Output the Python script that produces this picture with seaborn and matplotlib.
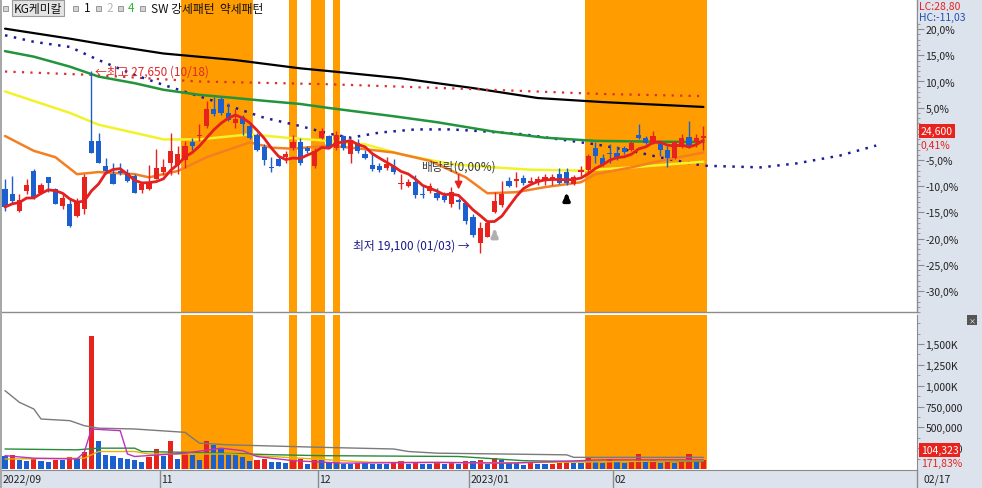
import numpy as np
import pandas as pd
import matplotlib
matplotlib.use("Agg")
import matplotlib.pyplot as plt
import matplotlib.transforms as mtransforms
from matplotlib.patches import Rectangle
import seaborn as sns

# === Setup ===
sns.set_style("white")
plt.rcParams["font.family"] = ["Noto Sans CJK KR", "DejaVu Sans"]
plt.rcParams["axes.unicode_minus"] = False

# === Data: daily candles, KG케미칼 2022-09-28 ~ 2023-02-17 ===
opens = [22100, 21850, 21050, 22000, 22950, 21900, 22650, 22100, 21300, 21400,
         20850, 21150, 24350, 24350, 23200, 22800, 22950, 22850, 22700, 22050,
         22100, 22550, 22900, 23350, 23250, 23450, 24300, 24600, 25050, 25850,
         26350, 25700, 25200, 25500, 25050, 24650, 24100, 23150, 23500, 23600,
         24050, 24300, 24050, 23200, 24500, 24600, 24050, 24600, 23750, 24250,
         23750, 23250, 23200, 23100, 23200, 22350, 22250, 22450, 21850, 22000,
         21900, 21750, 21400, 21600, 21450, 20800, 19550, 19850, 21000, 21350,
         22500, 22500, 22600, 22400, 22450, 22500, 22550, 22800, 22900, 22350,
         22900, 23000, 24050, 23550, 23800, 23800, 24050, 23950, 24650, 24500,
         24300, 24300, 23950, 23550, 24100, 24550, 24300, 24500]
highs = [22550, 22700, 21850, 22550, 23050, 22400, 22650, 22150, 21900, 21700,
         21700, 22800, 27650, 24750, 23550, 23350, 23350, 23050, 22800, 22400,
         23250, 24000, 23500, 24750, 24150, 24350, 24500, 25150, 26250, 26450,
         26450, 26150, 25850, 25600, 25150, 24750, 24200, 23600, 23600, 23900,
         24650, 24500, 24150, 24050, 25000, 24650, 24850, 24650, 24350, 24450,
         23950, 23800, 23350, 23600, 23500, 22800, 22550, 22750, 22250, 22400,
         22150, 21950, 22200, 21700, 21500, 20900, 20550, 20550, 21950, 22500,
         22650, 22900, 22750, 22650, 22700, 22800, 22800, 23100, 23100, 22750,
         23200, 23750, 24300, 23750, 24200, 24150, 24150, 24350, 25150, 24600,
         24850, 24350, 24150, 24350, 24700, 25300, 24700, 25050]
lows = [21050, 21450, 21000, 21850, 21650, 21850, 21950, 21400, 21150, 20300,
        20800, 20900, 23800, 23350, 22800, 22350, 22750, 22450, 21900, 21900,
        22050, 22550, 22750, 22750, 22800, 23100, 23950, 24350, 25000, 25550,
        25600, 25300, 25000, 24650, 24450, 23900, 23250, 22900, 23200, 23350,
        23950, 23250, 23800, 23100, 24450, 24050, 23950, 23950, 23350, 23800,
        23500, 22950, 22900, 23000, 22800, 22100, 22200, 21700, 21700, 21900,
        21600, 21500, 21250, 21150, 20450, 19850, 19100, 19850, 20950, 21250,
        22200, 22200, 22300, 22350, 22300, 22300, 22300, 22350, 22300, 22300,
        22700, 22900, 23350, 23200, 23350, 23450, 23750, 23900, 24450, 24200,
        24200, 23650, 23150, 23500, 24050, 24050, 24100, 23950]
closes = [21250, 21550, 21600, 22300, 21700, 22300, 22400, 21400, 21700, 20350,
          21550, 22650, 23800, 23350, 22950, 22350, 22850, 22500, 21900, 22350,
          22400, 23100, 23150, 23900, 23750, 24150, 24150, 24650, 25850, 25650,
          25700, 25350, 25400, 25150, 24500, 23950, 23450, 23100, 23200, 23750,
          24300, 23350, 23900, 23900, 24850, 24100, 24650, 24050, 24300, 23900,
          23550, 23050, 23000, 23300, 22900, 22400, 22450, 21800, 21800, 22250,
          21700, 21600, 21950, 21500, 20600, 19950, 20250, 20500, 21550, 21850,
          22250, 22550, 22400, 22500, 22550, 22650, 22650, 22400, 22400, 22650,
          23000, 23650, 23650, 23250, 23750, 23600, 23850, 24250, 24500, 24250,
          24600, 23950, 23550, 24300, 24500, 24100, 24500, 24600]
volumes_k = [152, 168, 112, 96, 120, 96, 88, 104, 104, 144,
             128, 208, 1597, 336, 168, 152, 128, 120, 104, 80,
             144, 240, 152, 336, 120, 192, 168, 104, 336, 288,
             240, 176, 176, 144, 96, 112, 120, 88, 88, 72,
             104, 120, 64, 104, 104, 88, 72, 64, 64, 72,
             72, 56, 56, 56, 72, 96, 56, 88, 56, 56,
             80, 56, 72, 56, 96, 96, 104, 64, 136, 104,
             80, 80, 48, 72, 56, 56, 64, 72, 96, 72,
             72, 136, 80, 72, 120, 80, 72, 80, 184, 80,
             104, 72, 88, 72, 80, 176, 80, 104]

# month labels on the date bar (index of first trading day)
month_labels = ["2022/09", "11", "12", "2023/01", "02"]
month_starts = [0, 22, 44, 65, 85]

# SW strong-pattern shading (first, last candle index)
pattern_spans = [(25, 34), (40, 40), (43, 44), (46, 46), (81, 97)]

# longer moving averages (candle index, price)
ma20_idx = [0, 4, 7, 10, 13, 18, 20, 24, 28, 34, 37, 40, 45, 50, 54, 59, 64, 67, 71, 75, 80, 82, 87, 91, 97]
ma20_val = [24600, 23900, 23600, 22800, 22900, 22800, 22650, 22950, 23600, 24300, 24050, 24000, 24150,
            23980, 23820, 23430, 22650, 21900, 21950, 22190, 22420, 22800, 23120, 23430, 23820]
ma60_idx = [0, 4, 9, 13, 18, 22, 27, 34, 39, 45, 50, 55, 62, 68, 73, 80, 87, 97]
ma60_val = [26700, 26250, 25690, 25130, 24750, 24440, 24440, 24680, 24520, 24370, 24210, 23740,
            23270, 23120, 23010, 22970, 23120, 23390]
ma120_idx = [0, 4, 9, 13, 18, 22, 27, 32, 36, 41, 45, 54, 60, 68, 75, 82, 91, 97]
ma120_val = [28600, 28340, 27870, 27400, 27090, 26780, 26540, 26390, 26260, 26110, 25920, 25530,
             25250, 24800, 24520, 24370, 24330, 24320]
ma240_idx = [0, 9, 13, 22, 32, 41, 45, 55, 65, 74, 83, 97]
ma240_val = [29660, 29190, 28960, 28490, 28180, 27790, 27660, 27320, 26860, 26390, 26200, 25970]
reddot_idx = [0, 12, 27, 45, 65, 83, 97]
reddot_val = [27640, 27480, 27170, 27040, 26810, 26580, 26480]
lead_idx = [0, 4, 9, 13, 18, 22, 27, 32, 36, 41, 45, 48, 52, 57, 62, 66, 72, 77, 82, 87, 91, 97,
            105, 110, 116, 121]
lead_val = [29350, 29040, 28800, 28180, 27480, 27010, 26470, 25920, 25460, 25070, 24710, 24520,
            24760, 24910, 24910, 24830, 24680, 24440, 24210, 23900, 23590, 23200, 23120, 23310,
            23680, 24150]

# volume averages (candle index, thousand shares)
vgray_idx = [0, 2, 4, 5, 9, 11, 13, 18, 25, 27, 31, 44, 54, 56, 60, 78, 79, 97]
vgray_val = [940, 800, 720, 600, 580, 520, 490, 480, 440, 310, 290, 260, 240, 210, 190, 170, 140, 140]
vmag_idx = [0, 4, 10, 11, 12, 16, 17, 18, 25, 30, 33, 35, 40, 47, 60, 70, 83, 97]
vmag_val = [160, 130, 120, 200, 480, 460, 180, 150, 190, 250, 220, 150, 100, 70, 80, 70, 110, 110]
vgreen_idx = [0, 10, 13, 18, 19, 25, 38, 44, 63, 72, 79, 97]
vgreen_val = [240, 230, 250, 250, 210, 200, 170, 160, 150, 100, 90, 90]
vyel_idx = [0, 11, 13, 18, 20, 31, 35, 47, 51, 70, 97]
vyel_val = [120, 130, 210, 210, 180, 180, 160, 100, 80, 75, 100]

pct_ticks = [20, 15, 10, 5, -5, -10, -15, -20, -25, -30]
pct_base = 24700
vol_ticks = [250000, 500000, 750000, 1000000, 1250000, 1500000]
vol_labels = ["250,000", "500,000", "750,000", "1,000K", "1,250K", "1,500K"]

# === Colours ===
RED = "#e8231e"
BLUE = "#1c5fce"
ORANGE = "#ff9c00"
BAND = "#dde3ec"
GRID = "#8c8c8c"

# === Figure layout (pixel helpers) ===
W, H = 982, 489
fig = plt.figure(figsize=(W / 100, H / 100), dpi=100)
fig.patch.set_facecolor("white")


def fx(px):
    return px / W


def fy(py):
    return 1 - py / H


fig.add_artist(Rectangle((fx(917), 0), 1 - fx(917), 1, transform=fig.transFigure,
                         facecolor=BAND, edgecolor="none", zorder=-1))
fig.add_artist(Rectangle((0, 0), 1, fy(471), transform=fig.transFigure,
                         facecolor=BAND, edgecolor="none", zorder=-1))
fig.add_artist(Rectangle((0, 0), fx(2), 1, transform=fig.transFigure,
                         facecolor="#a8a8a8", edgecolor="none", zorder=5))

ax = fig.add_axes([fx(2), fy(313), fx(917) - fx(2), fy(0) - fy(313)])
axv = fig.add_axes([fx(2), fy(470), fx(917) - fx(2), fy(316) - fy(470)], sharex=ax)
axd = fig.add_axes([fx(2), 0, fx(917) - fx(2), fy(471)], sharex=ax)

df = pd.DataFrame({"open": opens, "high": highs, "low": lows, "close": closes,
                   "volume": np.array(volumes_k) * 1000})
df["idx"] = np.arange(len(df))
df["dir"] = np.where(df["close"] >= df["open"], "up", "down")
df["vdir"] = np.where(df["volume"] > df["volume"].shift(1), "up", "down")
ccol = np.where(df["dir"] == "up", RED, BLUE)

# === Pattern shading ===
for s, e in pattern_spans:
    ax.axvspan(s - 0.5, e + 0.5, color=ORANGE, lw=0, zorder=0)
    axv.axvspan(s - 0.5, e + 0.5, color=ORANGE, lw=0, zorder=0)

# === Moving averages ===
line_kw = dict(ax=ax, estimator=None, legend=False)
sns.lineplot(x=ma240_idx, y=ma240_val, color="black", linewidth=1.6, zorder=2, **line_kw)
sns.lineplot(x=reddot_idx, y=reddot_val, color="#d83030", linewidth=1.6,
             linestyle=(0, (1, 2.8)), zorder=2, **line_kw)
sns.lineplot(x=lead_idx, y=lead_val, color="#1c1c9c", linewidth=1.8,
             linestyle=(0, (1, 2.6)), zorder=2, **line_kw)
sns.lineplot(x=ma120_idx, y=ma120_val, color="#22943c", linewidth=1.8, zorder=2, **line_kw)
sns.lineplot(x=ma60_idx, y=ma60_val, color="#f2f22a", linewidth=1.8, zorder=2, **line_kw)
sns.lineplot(x=ma20_idx, y=ma20_val, color="#f47f22", linewidth=1.8, zorder=2, **line_kw)
ma5 = df["close"].rolling(5, min_periods=1).mean()
sns.lineplot(x=df["idx"], y=ma5, color="#e42020", linewidth=2.0, zorder=5, **line_kw)

# === Candles ===
ax.vlines(df["idx"], df["low"], df["high"], colors=ccol, linewidth=1, zorder=3)
body_lo = np.minimum(df["open"], df["close"])
body_h = np.maximum((df["close"] - df["open"]).abs(), 45)
ax.bar(df["idx"], body_h, bottom=body_lo, width=0.72, color=ccol, linewidth=0, zorder=4)

# === Annotations ===
red_txt = "#e02828"
hi_i = int(np.argmax(highs))
ax.text(hi_i + 0.5, highs[hi_i], "←최고 27,650 (10/18)", color=red_txt, fontsize=8.5,
        ha="left", va="center", zorder=6)
lo_i = int(np.argmin(lows))
ax.text(lo_i - 1.5, lows[lo_i] + 350, "최저 19,100 (01/03) →", color="#1a1a8c", fontsize=8.5,
        ha="right", va="center", zorder=6)
ax.text(63, 23190, "배당락(0,00%)", color="#3c3c3c", fontsize=8.5, ha="center", va="center", zorder=6)
ax.annotate("", xy=(63, 21950), xytext=(63, 22900),
            arrowprops=dict(arrowstyle="-|>", color=RED, lw=1.2, mutation_scale=11), zorder=6)
ax.annotate("", xy=(78, 22030), xytext=(78, 21560),
            arrowprops=dict(arrowstyle="-|>", color="black", lw=2.6, mutation_scale=9), zorder=6)
ax.annotate("", xy=(68, 20320), xytext=(68, 19940),
            arrowprops=dict(arrowstyle="-|>", color="#b0b0b0", lw=2.6, mutation_scale=9), zorder=6)

# === Price axis ===
ax.set_xlim(-0.42, 126.67)
ax.set_ylim(16442, 31059)
ax.yaxis.tick_right()
ax.set_yticks([pct_base * (1 + p / 100) for p in pct_ticks])
ax.set_yticklabels([f"{p:.1f}%".replace(".", ",") for p in pct_ticks])
ax.set_yticks([pct_base * (1 + p / 100) for p in range(-34, 24)], minor=True)
ax.tick_params(axis="y", which="major", direction="out", length=5, width=0.8, color=GRID,
               labelsize=7.5, labelcolor="#222222", pad=1)
ax.tick_params(axis="y", which="minor", direction="out", length=2.5, width=0.6, color=GRID)
ax.tick_params(axis="x", which="both", bottom=False, labelbottom=False)
ax.set(xlabel="", ylabel="")
for side in ["left", "top"]:
    ax.spines[side].set_visible(False)
for side in ["right", "bottom"]:
    ax.spines[side].set_color(GRID)
    ax.spines[side].set_linewidth(1)

tr = mtransforms.blended_transform_factory(ax.transAxes, ax.transData)
ax.text(1.004, closes[-1] + 230, f"{closes[-1]:,}", transform=tr, color="white", fontsize=7.5,
        ha="left", va="center", bbox=dict(boxstyle="square,pad=0.18", fc=RED, ec="none"), zorder=7)
chg = (closes[-1] - closes[-2]) / closes[-2] * 100
ax.text(1.004, closes[-1] - 430, f"{chg:.2f}%".replace(".", ","), transform=tr, color=RED,
        fontsize=7.5, ha="left", va="center", zorder=7)
fig.text(fx(919), fy(7), "LC:28,80", color=RED, fontsize=7.5, ha="left", va="center")
fig.text(fx(919), fy(18), "HC:-11,03", color="#2050b0", fontsize=7.5, ha="left", va="center",
         bbox=dict(boxstyle="square,pad=0.05", fc=BAND, ec="none"))

# === Volume panel ===
sns.barplot(data=df, x="idx", y="volume", hue="vdir", palette={"up": RED, "down": BLUE},
            native_scale=True, dodge=False, width=0.72, errorbar=None, saturation=1,
            legend=False, linewidth=0, ax=axv, zorder=3)
vline_kw = dict(ax=axv, estimator=None, legend=False, linewidth=1, zorder=4)
sns.lineplot(x=vgray_idx, y=np.array(vgray_val) * 1000, color="#7a7a7a", **vline_kw)
sns.lineplot(x=vgreen_idx, y=np.array(vgreen_val) * 1000, color="#2a8a3a", **vline_kw)
sns.lineplot(x=vyel_idx, y=np.array(vyel_val) * 1000, color="#e0b400", **vline_kw)
sns.lineplot(x=vmag_idx, y=np.array(vmag_val) * 1000, color="#c030c0", **vline_kw)
axv.set_ylim(0, 1848000)
axv.yaxis.tick_right()
axv.set_yticks(vol_ticks)
axv.set_yticklabels(vol_labels)
axv.set_yticks(np.arange(125000, 1800000, 125000), minor=True)
axv.tick_params(axis="y", which="major", direction="out", length=5, width=0.8, color=GRID,
                labelsize=7.5, labelcolor="#222222", pad=1)
axv.tick_params(axis="y", which="minor", direction="out", length=2.5, width=0.6, color=GRID)
axv.tick_params(axis="x", which="both", bottom=False, labelbottom=False)
axv.set(xlabel="", ylabel="")
for side in ["left", "top", "bottom"]:
    axv.spines[side].set_visible(False)
axv.spines["right"].set_color(GRID)
axv.text(1.004, 0.125, f"{volumes_k[-1] * 1000 + 323:,}", transform=axv.transAxes, color="white",
         fontsize=7.5, ha="left", va="center",
         bbox=dict(boxstyle="square,pad=0.18", fc=RED, ec="none"), zorder=7)
axv.text(1.004, 0.04, "171,83%", transform=axv.transAxes, color=RED, fontsize=7.5,
         ha="left", va="center", zorder=7)
fig.text(fx(972), fy(321), "×", color="white", fontsize=5, ha="center", va="center",
         bbox=dict(boxstyle="square,pad=0.15", fc="#555555", ec="none"))

# === Date bar ===
axd.set_facecolor(BAND)
axd.set_ylim(0, 1)
axd.set_xticks([])
axd.set_yticks([])
for side in ["left", "bottom", "right"]:
    axd.spines[side].set_visible(False)
axd.spines["top"].set_color(GRID)
trd = mtransforms.blended_transform_factory(axd.transData, axd.transAxes)
for lab, m in zip(month_labels, month_starts):
    if m > 0:
        axd.axvline(m - 0.5, color=GRID, lw=1)
    axd.text(m - 0.35, 0.5, lab, transform=trd, fontsize=7.5, color="#222222",
             ha="left", va="center")
ax.set_xlim(-0.42, 126.67)
fig.add_artist(plt.Line2D([fx(917), fx(917)], [0, fy(471)], transform=fig.transFigure,
                          color=GRID, lw=1))
fig.text(fx(924), fy(480), "02/17", fontsize=7.5, color="#222222", ha="left", va="center")

# === Header ===
fig.text(fx(14), fy(9), "KG케미칼", fontsize=8.5, ha="left", va="center", color="#111111",
         bbox=dict(boxstyle="square,pad=0.15", fc="#e4e4e4", ec="#9a9a9a", lw=0.8))
for cx in [5.5, 75.5, 98, 120.5, 142.5]:
    fig.add_artist(Rectangle((fx(cx - 2.5), fy(11.5)), 5 / W, 5 / H, transform=fig.transFigure,
                             facecolor="#d4d4d4", edgecolor="#8a8a8a", lw=0.6, zorder=6))
fig.text(fx(84), fy(9), "1", fontsize=8.5, ha="left", va="center", color="#111111")
fig.text(fx(106), fy(9), "2", fontsize=8.5, ha="left", va="center", color="#b8b8b8")
fig.text(fx(128), fy(9), "4", fontsize=8.5, ha="left", va="center", color="#2ebd2e")
fig.text(fx(151), fy(9), "SW 강세패턴  약세패턴", fontsize=8.5, ha="left", va="center", color="#111111")

fig.savefig("out.png", dpi=100)
